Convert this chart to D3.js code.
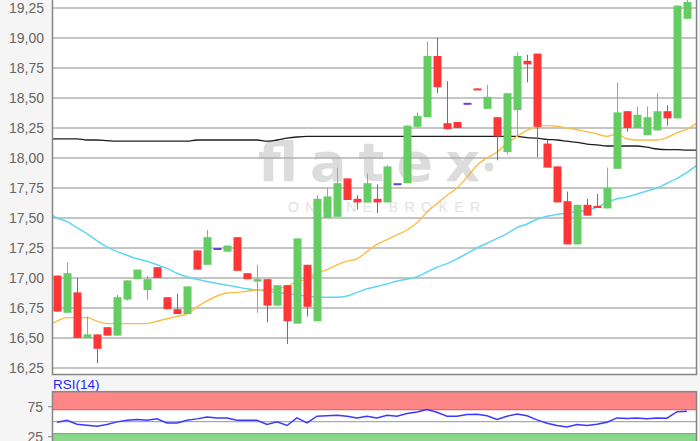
<!DOCTYPE html>
<html>
<head>
<meta charset="utf-8">
<script src="https://cdn.jsdelivr.net/npm/d3@7"></script>
<style>
body { margin: 0; background: #f5f5f5; }
#chart { width: 700px; height: 441px; overflow: hidden; }
</style>
</head>
<body>
<div id="chart"></div>
<script>
// daily candles, one per trading day (64 shown)
var opens = [17.02, 16.71, 16.88, 16.50, 16.53, 16.59, 16.52, 16.82, 16.99, 16.90,
   17.09, 16.84, 16.74, 16.70, 17.23, 17.11, 17.25, 17.22, 17.34, 17.04,
   16.97, 16.99, 16.77, 16.94, 16.62, 17.11, 16.64, 17.50, 17.51, 17.83,
   17.66, 17.63, 17.66, 17.63, 17.79, 17.79, 18.26, 18.34, 18.85, 18.29,
   18.30, 18.46, 18.58, 18.41, 18.34, 18.05, 18.40, 18.81, 18.87, 18.12,
   17.93, 17.64, 17.28, 17.61, 17.60, 17.58, 17.91, 18.39, 18.25, 18.19,
   18.23, 18.39, 18.33, 19.16];
var highs = [17.02, 17.13, 17.00, 16.68, 16.53, 16.59, 16.86, 16.98, 17.07, 17.02,
   17.09, 16.84, 16.87, 16.93, 17.23, 17.40, 17.25, 17.27, 17.34, 17.04,
   17.11, 16.99, 16.94, 16.94, 17.33, 17.11, 17.69, 17.75, 17.92, 17.83,
   17.69, 17.87, 17.78, 17.94, 17.79, 18.27, 18.38, 18.97, 19.00, 18.64,
   18.30, 18.46, 18.58, 18.61, 18.34, 18.54, 18.88, 18.86, 18.87, 18.15,
   17.93, 17.72, 17.61, 17.66, 17.70, 17.92, 18.63, 18.39, 18.43, 18.43,
   18.54, 18.44, 19.27, 19.32];
var lows = [16.72, 16.71, 16.50, 16.50, 16.29, 16.52, 16.52, 16.81, 16.99, 16.82,
   17.00, 16.74, 16.70, 16.70, 17.07, 17.11, 17.25, 17.22, 17.06, 16.99,
   16.71, 16.63, 16.77, 16.45, 16.62, 16.68, 16.64, 17.50, 17.51, 17.65,
   17.57, 17.63, 17.54, 17.63, 17.79, 17.79, 18.25, 18.34, 18.54, 18.24,
   18.25, 18.46, 18.57, 18.41, 17.98, 18.03, 18.18, 18.63, 18.01, 17.92,
   17.63, 17.28, 17.28, 17.52, 17.59, 17.58, 17.91, 18.22, 18.25, 18.19,
   18.23, 18.27, 18.33, 19.16];
var closes = [16.72, 17.04, 16.50, 16.53, 16.41, 16.52, 16.84, 16.98, 17.07, 16.99,
   17.00, 16.74, 16.70, 16.93, 17.07, 17.34, 17.25, 17.27, 17.06, 16.99,
   16.99, 16.77, 16.94, 16.64, 17.33, 16.76, 17.66, 17.68, 17.79, 17.65,
   17.63, 17.79, 17.63, 17.93, 17.79, 18.27, 18.35, 18.85, 18.59, 18.24,
   18.25, 18.46, 18.57, 18.51, 18.18, 18.54, 18.85, 18.78, 18.26, 17.92,
   17.63, 17.28, 17.61, 17.52, 17.59, 17.75, 18.38, 18.25, 18.36, 18.34,
   18.39, 18.33, 19.27, 19.30];

// moving averages, first value is one day before the window, last one day after
var maLong = [18.16, 18.16, 18.16, 18.16, 18.15, 18.15, 18.145, 18.14, 18.14, 18.14,
   18.14, 18.14, 18.14, 18.14, 18.14, 18.15, 18.15, 18.15, 18.15, 18.15,
   18.15, 18.15, 18.14, 18.15, 18.165, 18.175, 18.18, 18.18, 18.18, 18.18,
   18.18, 18.18, 18.18, 18.18, 18.18, 18.18, 18.18, 18.18, 18.18, 18.18,
   18.18, 18.18, 18.18, 18.18, 18.18, 18.18, 18.18, 18.18, 18.17, 18.165,
   18.155, 18.15, 18.14, 18.13, 18.115, 18.11, 18.10, 18.10, 18.10, 18.10,
   18.09, 18.075, 18.07, 18.07, 18.065, 18.065];
var maShort = [16.60, 16.64, 16.67, 16.67, 16.67, 16.64, 16.62, 16.62, 16.62, 16.62,
   16.62, 16.64, 16.66, 16.68, 16.70, 16.76, 16.81, 16.85, 16.875, 16.88,
   16.89, 16.90, 16.90, 16.91, 16.93, 16.97, 16.99, 17.04, 17.07, 17.11,
   17.14, 17.16, 17.22, 17.28, 17.32, 17.36, 17.40, 17.46, 17.55, 17.62,
   17.69, 17.75, 17.84, 17.94, 18.00, 18.05, 18.12, 18.18, 18.23, 18.26,
   18.27, 18.265, 18.25, 18.235, 18.22, 18.20, 18.18, 18.20, 18.16, 18.15,
   18.15, 18.15, 18.17, 18.21, 18.24, 18.29];
var maMid = [17.55, 17.50, 17.47, 17.42, 17.37, 17.31, 17.26, 17.22, 17.19, 17.16,
   17.14, 17.11, 17.08, 17.04, 17.01, 16.99, 16.97, 16.955, 16.94, 16.925,
   16.91, 16.90, 16.89, 16.88, 16.87, 16.86, 16.85, 16.84, 16.84, 16.84,
   16.85, 16.88, 16.91, 16.93, 16.95, 16.975, 16.99, 17.01, 17.05, 17.09,
   17.12, 17.16, 17.205, 17.25, 17.29, 17.33, 17.37, 17.42, 17.45, 17.49,
   17.515, 17.53, 17.54, 17.555, 17.565, 17.59, 17.63, 17.66, 17.675, 17.70,
   17.725, 17.75, 17.79, 17.83, 17.88, 17.94];

var rsi = [49.2, 52.5, 45.8, 44.2, 42.5, 45.3, 49.7, 52.5, 53.7, 52.5,
   54.7, 48, 48, 52.5, 54.7, 58, 56.3, 56.3, 52.5, 52.5,
   52.5, 45.3, 49.7, 43.7, 56.3, 48, 59.2, 60, 60.8, 59.2,
   56.3, 59.2, 56.3, 60.8, 59.2, 63.7, 66.3, 70.3, 65.8, 59.2,
   59.2, 62, 62.5, 60, 53.7, 59.2, 63, 60, 53, 47.5,
   43.7, 41.3, 45.3, 43.7, 45.8, 49.2, 56.3, 55.3, 56.3, 55,
   56.3, 55.8, 66.7, 67.5];

var priceTicks = [16.25, 16.5, 16.75, 17, 17.25, 17.5, 17.75, 18, 18.25, 18.5, 18.75, 19, 19.25];
var rsiTicks = [25, 75];
var rsiUpper = 70;
var rsiLower = 30;

var width = 700;
var height = 441;
var left = 52.5;
var right = 696.5;
var bottom = 374.5;
var rsiTop = 391.7;

var candles = opens.map(function (o, i) {
   return {i: i, o: o, h: highs[i], l: lows[i], c: closes[i]};
});

var locale = d3.formatLocale({decimal: ",", thousands: ".", grouping: [3], currency: ["", " €"]});
var fmt = locale.format(".2f");

var xScale = d3.scaleLinear().domain([0, candles.length - 1]).range([57, 687]);
var yScale = d3.scaleLinear().domain([16.2, 19.3167]).range([374, 0]);
var rScale = d3.scaleLinear().domain([0, 100]).range([451.7, 391.7]);

var svg = d3.select("#chart").
append("svg").
attr("width", width).
attr("height", height).
style("display", "block").
style("font-family", "'Liberation Sans', Arial, sans-serif");

svg.append("rect").
attr("width", width).
attr("height", height).
attr("fill", "#f5f5f5");

svg.append("defs").append("clipPath").
attr("id", "plotClip").
append("rect").
attr("x", left).
attr("y", 0).
attr("width", right - left).
attr("height", bottom);

// main panel
svg.append("rect").
attr("x", left).
attr("y", -2).
attr("width", right - left).
attr("height", bottom + 2).
attr("fill", "#fff");

// watermark
var mark = svg.append("g");
mark.append("text").
attr("x", 258).
attr("y", 181).
attr("textLength", 222).
attr("lengthAdjust", "spacing").
style("font-family", "'DejaVu Sans', sans-serif").
style("font-size", "54px").
style("font-weight", "bold").
attr("fill", "#dcdcdc").
text("flatex");
mark.append("circle").
attr("cx", 489).
attr("cy", 167).
attr("r", 4.5).
attr("fill", "#dcdcdc");
mark.append("text").
attr("x", 288).
attr("y", 212).
attr("textLength", 192).
attr("lengthAdjust", "spacing").
style("font-size", "14px").
attr("fill", "#e2e2e2").
text("ONLINE BROKER");

svg.append("g").
selectAll("line").
data(priceTicks).
enter().
append("line").
attr("x1", left).
attr("x2", right).
attr("y1", function (d) {return yScale(d);}).
attr("y2", function (d) {return yScale(d);}).
attr("stroke", "#a9a9a9").
attr("stroke-opacity", 0.9).
attr("stroke-width", 1.3);

var plot = svg.append("g").attr("clip-path", "url(#plotClip)");

function maLine(values, color, w) {
   var line = d3.line().
   x(function (d, i) {return xScale(i - 1);}).
   y(function (d) {return yScale(d);}).
   curve(d3.curveMonotoneX);
   plot.append("path").
   datum(values).
   attr("d", line).
   attr("fill", "none").
   attr("stroke", color).
   attr("stroke-width", w);
}

maLine(maLong, "#1e1e1e", 1.3);
maLine(maMid, "#5fd6f4", 1.5);
maLine(maShort, "#fbbd44", 1.4);

function candleColor(d) {
   if (d.c > d.o) return "#63cd63";
   if (d.c < d.o) return "#ff3636";
   return "#6a3fe0";
}

var cg = plot.selectAll("g.candle").
data(candles).
enter().
append("g").
attr("class", "candle");

cg.append("line").
attr("x1", function (d) {return Math.round(xScale(d.i)) + 0.5;}).
attr("x2", function (d) {return Math.round(xScale(d.i)) + 0.5;}).
attr("y1", function (d) {return yScale(d.h);}).
attr("y2", function (d) {return yScale(d.l);}).
attr("stroke", candleColor).
attr("stroke-width", 1);

cg.append("rect").
attr("x", function (d) {return Math.round(xScale(d.i)) - 3.5;}).
attr("width", 8).
attr("y", function (d) {return yScale(Math.max(d.o, d.c));}).
attr("height", function (d) {return Math.max(2, yScale(Math.min(d.o, d.c)) - yScale(Math.max(d.o, d.c)));}).
attr("fill", candleColor);

svg.append("rect").
attr("x", left).
attr("y", -2).
attr("width", right - left).
attr("height", bottom + 2).
attr("fill", "none").
attr("stroke", "#858585").
attr("stroke-width", 1.5);

svg.append("g").
selectAll("text").
data(priceTicks).
enter().
append("text").
attr("x", 44).
attr("y", function (d) {return yScale(d);}).
attr("dy", "0.35em").
style("text-anchor", "end").
style("font-size", "14px").
attr("fill", "#666").
text(function (d) {return fmt(d);});

// RSI panel
svg.append("text").
attr("x", 53).
attr("y", 389).
style("font-size", "13.5px").
attr("fill", "#2727ff").
text("RSI(14)");

svg.append("rect").
attr("x", left).
attr("y", rsiTop).
attr("width", right - left).
attr("height", height - rsiTop + 5).
attr("fill", "#fff");

svg.append("rect").
attr("x", left).
attr("y", rScale(100)).
attr("width", right - left).
attr("height", rScale(rsiUpper) - rScale(100)).
attr("fill", "#ff8686");

svg.append("rect").
attr("x", left).
attr("y", rScale(rsiLower)).
attr("width", right - left).
attr("height", rScale(0) - rScale(rsiLower)).
attr("fill", "#8bd88b");

svg.append("line").
attr("x1", left).
attr("x2", right).
attr("y1", rScale(rsiUpper)).
attr("y2", rScale(rsiUpper)).
attr("stroke", "#e06a6a").
attr("stroke-width", 1.2);

svg.append("line").
attr("x1", left).
attr("x2", right).
attr("y1", rScale(rsiLower)).
attr("y2", rScale(rsiLower)).
attr("stroke", "#6cc06c").
attr("stroke-width", 1.2);

svg.append("line").
attr("x1", left).
attr("x2", right).
attr("y1", rScale(50)).
attr("y2", rScale(50)).
attr("stroke", "#aaa").
attr("stroke-width", 1.3);

svg.append("path").
datum(rsi).
attr("d", d3.line().
x(function (d, i) {return xScale(i);}).
y(function (d) {return rScale(d);})).
attr("fill", "none").
attr("stroke", "#3a3aff").
attr("stroke-width", 1.5);

svg.append("rect").
attr("x", left).
attr("y", rsiTop).
attr("width", right - left).
attr("height", height - rsiTop + 5).
attr("fill", "none").
attr("stroke", "#858585").
attr("stroke-width", 1.5);

var rt = svg.append("g").
selectAll("g").
data(rsiTicks).
enter().
append("g");

rt.append("line").
attr("x1", 48).
attr("x2", left).
attr("y1", function (d) {return rScale(d);}).
attr("y2", function (d) {return rScale(d);}).
attr("stroke", "#888");

rt.append("text").
attr("x", 43).
attr("y", function (d) {return rScale(d);}).
attr("dy", "0.35em").
style("text-anchor", "end").
style("font-size", "14px").
attr("fill", "#666").
text(function (d) {return d;});
</script>
</body>
</html>
